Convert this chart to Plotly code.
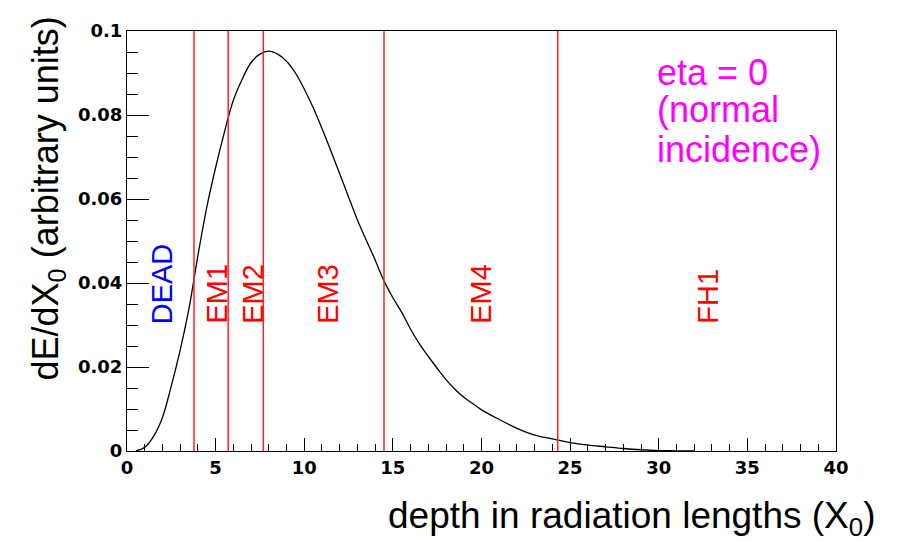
import plotly.graph_objects as go

# longitudinal shower profile (x in X0, dE/dX0)
depth = [0.5, 1.0, 1.5, 2.0, 2.5, 3.0, 3.5, 4.0, 4.5, 5.0, 5.5, 6.0, 6.5, 7.0, 7.5,
         8.0, 8.5, 9.0, 9.5, 10.0, 10.5, 11.0, 11.5, 12.0, 12.5, 13.0, 13.5, 14.0,
         14.5, 15.0, 15.5, 16.0, 16.5, 17.0, 17.5, 18.0, 18.5, 19.0, 19.5, 20.0,
         21.0, 22.0, 23.0, 24.0, 25.0, 26.0, 27.0, 28.0, 29.0, 30.0, 31.0, 32.0]
dedx = [0.0, 0.0009, 0.0035, 0.008, 0.0155, 0.024, 0.034, 0.0465, 0.058, 0.0675,
        0.076, 0.0835, 0.0885, 0.0925, 0.0945, 0.0952, 0.0945, 0.0928, 0.090, 0.0862,
        0.0818, 0.0768, 0.0715, 0.066, 0.0605, 0.055, 0.0502, 0.0455, 0.0405, 0.0365,
        0.033, 0.029, 0.0255, 0.0225, 0.0197, 0.017, 0.0147, 0.0128, 0.0113, 0.0098,
        0.0075, 0.0054, 0.0038, 0.0029, 0.002, 0.0014, 0.001, 0.0006, 0.0003, 0.0001,
        0.00005, 0.0]

# layer boundaries
boundaries = [3.78, 5.71, 7.69, 14.5, 24.3]

# layer labels
layer_names = ["DEAD", "EM1", "EM2", "EM3", "EM4", "FH1"]
layer_x = [1.97, 5.06, 7.11, 11.34, 19.97, 32.8]
layer_colors = ["blue", "red", "red", "red", "red", "red"]

eta_lines = ["eta = 0", "(normal", "incidence)"]

fig = go.Figure()

fig.add_trace(go.Scatter(x=depth, y=dedx, mode="lines",
                         line=dict(color="black", width=1.3, shape="spline"),
                         showlegend=False, hoverinfo="skip"))

for b in boundaries:
    fig.add_shape(type="line", x0=b, x1=b, y0=0, y1=0.1, xref="x", yref="y",
                  line=dict(color="#ff2020", width=1.5))

for name, xx, col in zip(layer_names, layer_x, layer_colors):
    fig.add_annotation(x=xx, y=0.0298, text=name, textangle=-90, showarrow=False,
                       xanchor="center", yanchor="bottom",
                       font=dict(family="Liberation Sans", size=29, color=col))

for i, line in enumerate(eta_lines):
    fig.add_annotation(x=29.79, y=[0.0902, 0.0812, 0.0719][i], text=line,
                       showarrow=False, xanchor="left", yanchor="middle",
                       font=dict(family="Liberation Sans", size=36, color="#ff00ff"))

# axis titles
fig.add_annotation(xref="paper", yref="paper", x=-0.111, y=0.602,
                   text="dE/dX<sub>0</sub> (arbitrary units)", textangle=-90,
                   showarrow=False, xanchor="center", yanchor="middle",
                   font=dict(family="Liberation Sans", size=36, color="black"))
fig.add_annotation(xref="paper", yref="paper", x=1.0578, y=-0.099,
                   text="depth in radiation lengths (X<sub>0</sub>)",
                   showarrow=False, xanchor="right", yanchor="top",
                   font=dict(family="Liberation Sans", size=37, color="black"))

tickfont = dict(family="DejaVu Sans", size=18, color="black", weight="bold")

# the page body adds an 8px offset, margins compensate for it
fig.update_layout(
    width=897, height=541,
    margin=dict(l=119, r=69, t=13, b=98),
    paper_bgcolor="white", plot_bgcolor="white",
    xaxis=dict(range=[0, 40], tickvals=[0, 5, 10, 15, 20, 25, 30, 35, 40],
               ticks="inside", ticklen=13, tickwidth=1, tickcolor="black",
               minor=dict(dtick=1, ticks="inside", ticklen=7, tickcolor="black"),
               showgrid=False, zeroline=False, showline=True, linecolor="black",
               linewidth=1.2, mirror=True, tickfont=tickfont),
    yaxis=dict(range=[0, 0.1], tickvals=[0, 0.02, 0.04, 0.06, 0.08, 0.1],
               ticktext=["0", "0.02", "0.04", "0.06", "0.08", "0.1"],
               ticks="inside", ticklen=22, tickwidth=1, tickcolor="black",
               minor=dict(dtick=0.005, ticks="inside", ticklen=11, tickcolor="black"),
               showgrid=False, zeroline=False, showline=True, linecolor="black",
               linewidth=1.2, mirror=True, tickfont=tickfont),
)

fig.write_html("out.html")
